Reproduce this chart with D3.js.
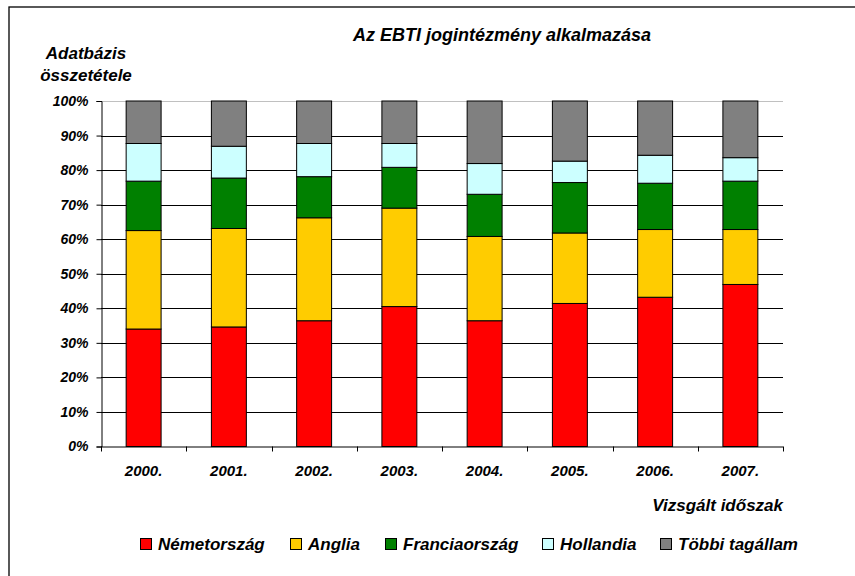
<!DOCTYPE html>
<html><head><meta charset="utf-8">
<script src="https://cdn.jsdelivr.net/npm/d3@7"></script>
<style>
html,body{margin:0;padding:0;background:#fff;}
text{font-family:"Liberation Sans",Arial,sans-serif;font-weight:bold;font-style:italic;fill:#000;}
</style></head>
<body>
<svg id="c" width="855" height="576"></svg>
<script>
const years = ["2000.","2001.","2002.","2003.","2004.","2005.","2006.","2007."];
const seriesNames = ["Németország","Anglia","Franciaország","Hollandia","Többi tagállam"];
const seriesColors = ["#FF0000","#FFCC00","#008000","#CCFFFF","#808080"];
const nemetorszag   = [34.0, 34.6, 36.4, 40.5, 36.4, 41.4, 43.2, 46.9];
const anglia        = [28.5, 28.5, 29.8, 28.5, 24.4, 20.4, 19.6, 15.9];
const franciaorszag = [14.3, 14.6, 11.9, 11.8, 12.2, 14.6, 13.4, 14.0];
const hollandia     = [10.9,  9.2,  9.6,  6.9,  8.9,  6.2,  8.1,  6.8];
const tobbi         = [12.3, 13.1, 12.3, 12.3, 18.1, 17.4, 15.7, 16.4];
const yTicks = [0,0.1,0.2,0.3,0.4,0.5,0.6,0.7,0.8,0.9,1];

const svg = d3.select("#c");
// outer frame
svg.append("rect").attr("x",9).attr("y",7).attr("width",860).attr("height",600)
  .attr("fill","none").attr("stroke","#000").attr("stroke-width",1.3);

const X0=101, X1=783, Y0=446.5, Y1=101;
const x = d3.scaleBand().domain(years).range([X0,X1]).paddingInner(0.59).paddingOuter(0.295);
const y = d3.scaleLinear().domain([0,1]).range([Y0,Y1]);

const rows = years.map((yr,i)=>({year:yr, s0:nemetorszag[i], s1:anglia[i], s2:franciaorszag[i], s3:hollandia[i], s4:tobbi[i]}));
const keys = ["s0","s1","s2","s3","s4"];
const stacked = d3.stack().keys(keys).offset(d3.stackOffsetExpand)(rows);

// gridlines
svg.append("g").selectAll("line").data(yTicks.slice(1)).join("line")
  .attr("x1",X0).attr("x2",X1)
  .attr("y1",d=>Math.round(y(d))+0.5).attr("y2",d=>Math.round(y(d))+0.5)
  .attr("stroke",d=>d===1?"#c0c0c0":"#000").attr("stroke-width",1);

// bars
const g = svg.append("g");
stacked.forEach((layer,li)=>{
  g.append("g").selectAll("rect").data(layer).join("rect")
    .attr("x",d=>x(d.data.year))
    .attr("width",x.bandwidth())
    .attr("y",d=>y(d[1]))
    .attr("height",d=>y(d[0])-y(d[1]))
    .attr("fill",seriesColors[li])
    .attr("stroke","#000").attr("stroke-width",1);
});

// y axis
const ya = svg.append("g").attr("transform",`translate(${X0+0.5},0)`)
  .call(d3.axisLeft(y).tickValues(yTicks).tickFormat(d3.format(".0%")).tickSize(5).tickPadding(8));
ya.select(".domain").attr("stroke","#000");
ya.selectAll(".tick line").attr("stroke","#000");
ya.selectAll("text").style("font-size","14px").attr("fill","#000");

// x axis
const step = x.step();
const bounds = d3.range(years.length+1).map(i=>X0+i*step);
svg.append("line").attr("x1",X0).attr("x2",X1).attr("y1",Y0+0.5).attr("y2",Y0+0.5).attr("stroke","#000");
svg.append("g").selectAll("line").data(bounds).join("line")
  .attr("x1",d=>Math.round(d)+0.5).attr("x2",d=>Math.round(d)+0.5)
  .attr("y1",Y0).attr("y2",Y0+5).attr("stroke","#000");
svg.append("g").selectAll("text").data(years).join("text")
  .attr("x",d=>x(d)+x.bandwidth()/2).attr("y",475.5)
  .attr("text-anchor","middle").style("font-size","15px").text(d=>d);

// titles
svg.append("text").attr("x",502).attr("y",41).attr("text-anchor","middle").style("font-size","18px")
  .text("Az EBTI jogintézmény alkalmazása");
svg.append("text").attr("x",86).attr("y",59).attr("text-anchor","middle").style("font-size","17px").text("Adatbázis");
svg.append("text").attr("x",86).attr("y",81).attr("text-anchor","middle").style("font-size","17px").text("összetétele");
svg.append("text").attr("x",783).attr("y",511).attr("text-anchor","end").style("font-size","17px").text("Vizsgált időszak");

// legend
const legX = [140, 290, 385, 542, 660];
const leg = svg.append("g");
seriesNames.forEach((n,i)=>{
  leg.append("rect").attr("x",legX[i]+0.5).attr("y",538.5).attr("width",11).attr("height",11)
    .attr("fill",seriesColors[i]).attr("stroke","#000").attr("stroke-width",1);
  leg.append("text").attr("x",legX[i]+18).attr("y",549.5).style("font-size","17px").text(n);
});
</script>
</body></html>
